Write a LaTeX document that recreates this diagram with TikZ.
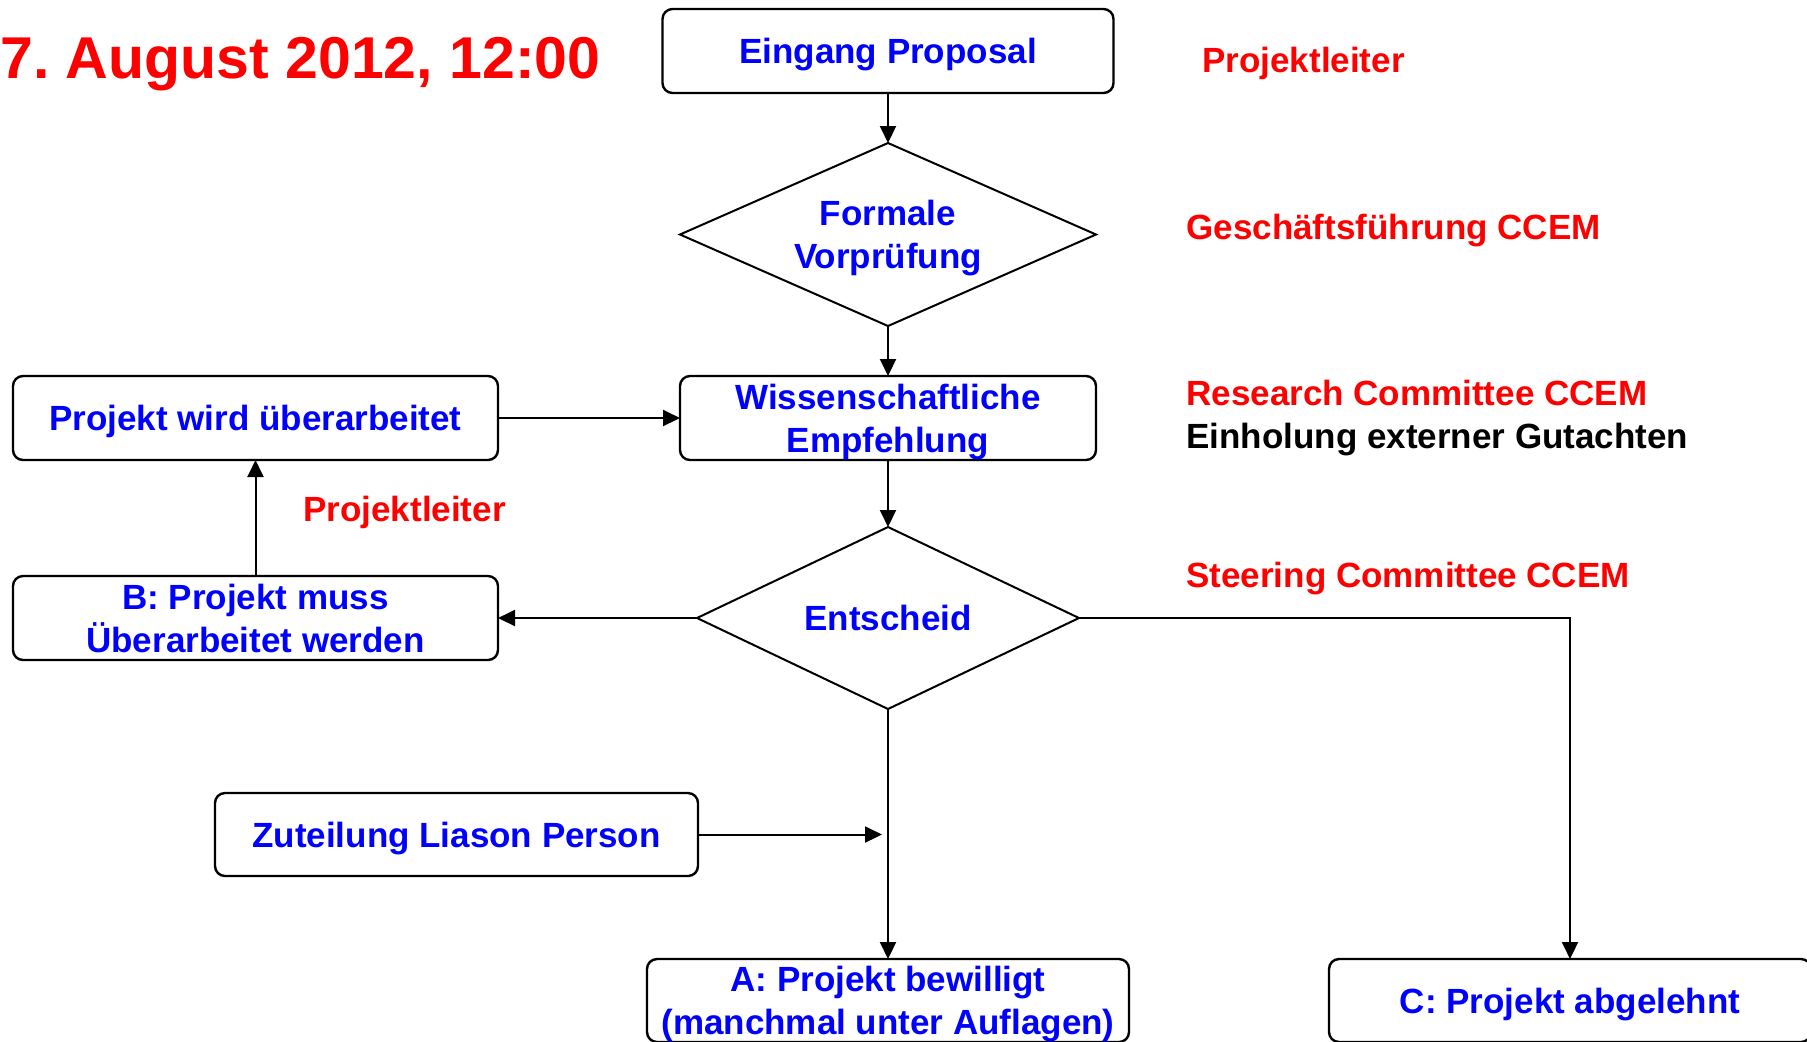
\documentclass[tikz,border=0pt]{standalone}
\usepackage{fontspec}
\setmainfont{Liberation Sans}
\usetikzlibrary{positioning,shapes.geometric,arrows.meta,calc}

\begin{document}
\begin{tikzpicture}[node distance=25pt, x=1pt, y=1pt]
    \tikzstyle{box}= [draw=black, line width=1.2pt, rectangle, rounded corners=5pt, inner sep=0pt, outer sep=0pt, text depth=0pt, minimum width=225.5pt, minimum height=42pt, align=center, text=blue, font=\fontsize{17.5}{21.5}\selectfont\bfseries]
    \tikzstyle{raute}= [draw=black, line width=1pt, diamond, aspect=2.2, inner sep=0pt, outer sep=0pt, text depth=0pt, align=center, text=blue, font=\fontsize{17.5}{21.5}\selectfont\bfseries]
    \tikzstyle{rolle}= [inner sep=0pt, anchor=base west, text=red, font=\fontsize{17.5}{21.5}\selectfont\bfseries]
    \tikzstyle{pfeil}= [-{Triangle[length=8.5pt,width=8pt]}, line width=1pt]

    \useasboundingbox (0,0) rectangle (903.5,-520.5);

    \node (titel) [rolle, font=\fontsize{29.5}{35}\selectfont\bfseries] at (0,-39.4) {7.\ August 2012, 12:00};

    % Hauptstrang
    \node (eingang) [box] at (444,-25.5) {Eingang Proposal};
    \node (formal) [raute, minimum width=208pt, minimum height=91.5pt, below=25pt of eingang] {Formale\\Vorprüfung};
    \node (empf) [box, minimum width=208pt, below=25pt of formal] {Wissenschaftliche\\Empfehlung};
    \node (entscheid) [raute, minimum width=191pt, minimum height=91pt, below=33.5pt of empf] {Entscheid};
    \node (bewilligt) [box, minimum width=241pt, minimum height=41.5pt, below=125pt of entscheid] {A: Projekt bewilligt\\(manchmal unter Auflagen)};
    \node (abgelehnt) [box, minimum width=241pt, minimum height=41.5pt, right=100pt of bewilligt] {C: Projekt abgelehnt};

    % linke Seite
    \node (ueberarb) [box, minimum width=242.5pt, left=91pt of empf] {Projekt wird überarbeitet};
    \node (muss) [box, minimum width=242.5pt, below=58pt of ueberarb] {B: Projekt muss\\Überarbeitet werden};
    \node (liason) [box, minimum width=241.5pt, minimum height=41.5pt, below right=66.5pt and 101pt of muss.south west, anchor=north west] {Zuteilung Liason Person};
    \coordinate (zu) at ($(liason.east -| bewilligt.north)+(-3pt,0)$);

    % Zuständigkeiten
    \node (pl1) [rolle] at (601,-36.25) {Projektleiter};
    \node (gf) [rolle] at (593,-119.75) {Geschäftsführung CCEM};
    \node (rc) [rolle] at (593,-202.75) {Research Committee CCEM};
    \node (gut) [rolle, text=black] at (593,-224) {Einholung externer Gutachten};
    \node (sc) [rolle] at (593,-293.75) {Steering Committee CCEM};
    \node (pl2) [rolle] at (151.5,-260.75) {Projektleiter};

    \draw [pfeil] (eingang) -- (formal);
    \draw [pfeil] (formal) -- (empf);
    \draw [pfeil] (empf) -- (entscheid);
    \draw [pfeil] (ueberarb) -- (empf);
    \draw [pfeil] (muss.north) -- (ueberarb.south);
    \draw [pfeil] (entscheid) -- (muss);
    \draw [pfeil] (entscheid.east) -| (abgelehnt.north);
    \draw [pfeil] (entscheid) -- (bewilligt);
    \draw [pfeil] (liason) -- (zu);
\end{tikzpicture}
\end{document}
